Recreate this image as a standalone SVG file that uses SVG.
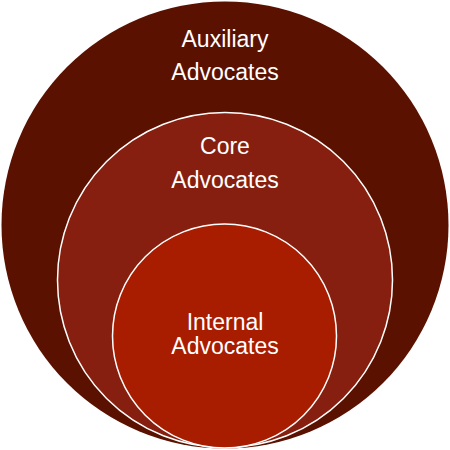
<svg xmlns="http://www.w3.org/2000/svg" width="450" height="450" viewBox="0 0 450 450">
<style>
.c{stroke:#ffffff;stroke-width:1.5}
.t{font-family:"Liberation Sans",Arial,sans-serif;font-size:23px;fill:#ffffff;text-anchor:middle}
</style>
<rect width="450" height="450" fill="#ffffff"/>
<g id="outer">
<circle cx="225" cy="225" r="223.5" fill="#5a1100"/>
<text class="t" x="225" y="47">Auxiliary</text>
<text class="t" x="225" y="80">Advocates</text>
</g>
<g id="core">
<circle class="c" cx="225" cy="280" r="167.5" fill="#861f0f"/>
<text class="t" x="225" y="154">Core</text>
<text class="t" x="225" y="188">Advocates</text>
</g>
<g id="internal">
<circle class="c" cx="224.5" cy="336" r="112" fill="#a81c00"/>
<text class="t" x="225" y="330">Internal</text>
<text class="t" x="225" y="354">Advocates</text>
</g>
<g id="connectors"/>
</svg>
